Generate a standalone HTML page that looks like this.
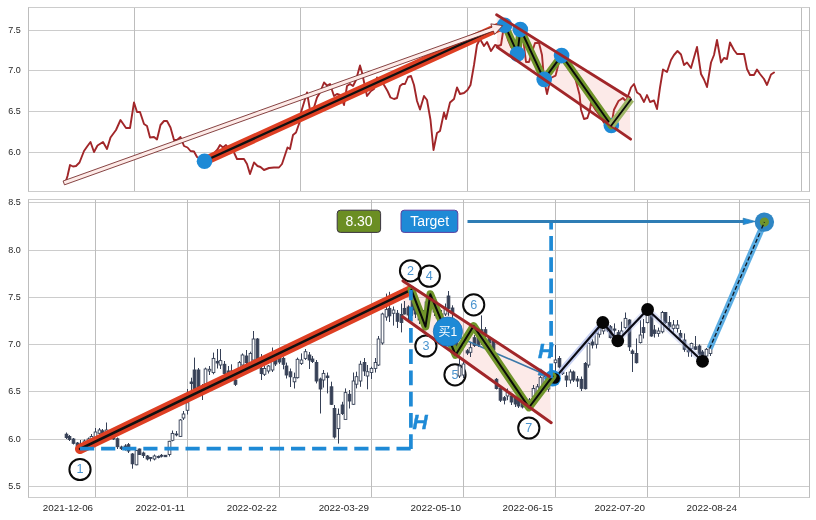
<!DOCTYPE html>
<html lang="zh">
<head>
<meta charset="utf-8">
<title>Chart</title>
<style>
html,body{margin:0;padding:0;background:#ffffff;}
body{width:816px;height:520px;overflow:hidden;font-family:"Liberation Sans","Noto Sans CJK SC",sans-serif;}
svg{display:block;}
</style>
</head>
<body>
<svg width="816" height="520" viewBox="0 0 816 520" font-family="'Liberation Sans', 'Noto Sans CJK SC', sans-serif">
<rect x="0" y="0" width="816" height="520" fill="#ffffff"/>
<g id="ax1">
<rect x="28.5" y="7.5" width="781" height="184" fill="#ffffff"/>
<g stroke="#cccccc" stroke-width="1" fill="none">
<line x1="28.5" y1="30.5" x2="809.5" y2="30.5"/>
<line x1="28.5" y1="70.5" x2="809.5" y2="70.5"/>
<line x1="28.5" y1="111.5" x2="809.5" y2="111.5"/>
<line x1="28.5" y1="152.5" x2="809.5" y2="152.5"/>
<line x1="134.5" y1="7.5" x2="134.5" y2="191.5" stroke="#bdbdbd"/>
<line x1="300.5" y1="7.5" x2="300.5" y2="191.5" stroke="#bdbdbd"/>
<line x1="467.5" y1="7.5" x2="467.5" y2="191.5" stroke="#bdbdbd"/>
<line x1="634.5" y1="7.5" x2="634.5" y2="191.5" stroke="#bdbdbd"/>
<line x1="801.5" y1="7.5" x2="801.5" y2="191.5" stroke="#bdbdbd"/>
</g>
<polyline points="65.5,182.5 67.5,176 70,165 73,166.5 76,166 79.5,162.5 84,151 87.5,146 90.5,142 94,152 97.5,145.5 103,142 107,149 110.5,137.5 116,130 120.5,120 126,128 130,128 134,102.5 137,112 140,112 144,124 147,126 150,137.5 154,137 157,139.5 160.5,125 164,121 167,121 170.5,127.5 174,140 177,140 180.5,137 184,146 187.5,147.5 190.5,151 194,151.5 197,157 200.5,159 204.5,161 208,159 212.5,155 217.5,149.5 220,145 223,147.5 226,145 230,150.5 234,152.5 237,159 244,159 247,164 250,174 254,162.5 257.5,166 260.5,167 264,170 269,168 274,167.5 279,167.5 282,164 285,155 287.5,147.5 290,149 293,135 296,132.5 299.5,122.5 300.5,114 304,102.5 307,92.5 310,110 314,107.5 317,97.5 320,92.5 324,82.5 327,85.5 330,84 334,96 337,94 340,95 344,105 347,86 350,84 353,86 356,80 360,65.5 362,72.5 367,96 371,91 374,89 377,77.5 380,80 384,85 387.5,91 390.5,97.5 394,99 397,98 400,86 402.5,84 405,84 408,77 411,76 414,85 417,101 420,109.5 424,96 427,100 430.5,120 433.5,150 437,133 440,131 444,112.5 446,119 450,102.5 454,99 457,87.5 460,94 464,93 467.5,90 470.5,85 474,65 477,45 480,39 484,46 487,42 491,51 495,45 498,46 501,45 503,32 504.5,24.5 508,40 511,47 514,50 517.5,53.4 520.4,29 523,37.5 526,62 529,62 532,52 535,43 539,43 542,55 544,79.4 547,94 550.7,78 555.6,75.6 559,62 561.7,55.4 566.6,60.6 571.8,66 576.7,83.7 579.6,95 581,109.7 584,119 587.4,118 589.7,111 591,102.5 595.4,109.7 599.8,115.4 604,122.7 611.3,125.5 614,109.7 618.5,101 622.9,98 625.7,101 627,99 631,87.5 634,84 637,92.5 640,94.5 644,102 647,95 650,102 654,100.5 657,109 660,87.5 663,69.5 667,72 671,60 674,55 677.5,51 681,54.5 684,65 687,62.5 691,68 694,57.5 697,47 701,74 704,79.5 707,87 711,62.5 714,55 717,40 721,62.5 724,58 727,59 730,42.5 734,50 737,54 740,54 744,54 747,69 750,75 754,75 757,69.5 760,74 764,79 767,85 771,74.5 774,72.5" fill="none" stroke="#a12629" stroke-width="1.9" stroke-linejoin="round" stroke-linecap="round"/>
<polygon points="496.6,14.8 629.5,97.7 630.6,139.2 497.2,47.1" fill="#e8604a" fill-opacity="0.13"/>
<line x1="204.5" y1="161" x2="503.5" y2="25" stroke="#de3f23" stroke-width="9.2" stroke-linecap="round"/>
<line x1="204.5" y1="161" x2="503.5" y2="25" stroke="#111" stroke-width="2.4" stroke-linecap="round"/>
<circle cx="611.3" cy="125.5" r="7.8" fill="#1e8ad6"/>
<polyline points="504.5,24.5 517.5,53.4 520.4,29 544,79.4 561.7,55.4 611.3,125.5" fill="none" stroke="#70942a" stroke-width="7.4" stroke-linejoin="round" stroke-linecap="round"/>
<polyline points="504.5,24.5 517.5,53.4 520.4,29 544,79.4 561.7,55.4 611.3,125.5" fill="none" stroke="#0a0a0a" stroke-width="1.9" stroke-linejoin="round" stroke-linecap="round"/>
<circle cx="204.5" cy="161.2" r="7.8" fill="#1e8ad6"/>
<circle cx="504.6" cy="25.2" r="7.8" fill="#1e8ad6"/>
<circle cx="520.3" cy="29.6" r="7.8" fill="#1e8ad6"/>
<circle cx="517.4" cy="54" r="7.8" fill="#1e8ad6"/>
<circle cx="544.2" cy="79.4" r="7.8" fill="#1e8ad6"/>
<circle cx="561.6" cy="55.6" r="7.8" fill="#1e8ad6"/>
<polygon points="64.49,184.83 493.41,31.07 494.61,34.41 502.6,25.6 490.83,23.87 492.02,27.21 63.11,180.97" fill="#fdebe8" stroke="#702424" stroke-width="0.85" stroke-linejoin="miter"/>
<line x1="496.6" y1="14.8" x2="629.5" y2="97.7" stroke="#a12629" stroke-width="2.8" stroke-linecap="round"/>
<line x1="497.2" y1="47.1" x2="630.6" y2="139.2" stroke="#a12629" stroke-width="2.8" stroke-linecap="round"/>
<polyline points="611.3,125.5 631,99.2" fill="none" stroke="#9db565" stroke-width="7.4" stroke-linecap="butt"/>
<polyline points="611.3,125.5 631,99.2" fill="none" stroke="#0a0a0a" stroke-width="1.9" stroke-linecap="round"/>
<rect x="28.5" y="7.5" width="781" height="184" fill="none" stroke="#cccccc" stroke-width="1"/>
<path d="M28.5 7.5V191.5M809.5 7.5V191.5" stroke="#bdbdbd" stroke-width="1" fill="none"/>
</g>
<g id="ax2">
<rect x="28.5" y="199.5" width="781" height="298" fill="#ffffff"/>
<g stroke="#cccccc" stroke-width="1" fill="none">
<line x1="28.5" y1="202.5" x2="809.5" y2="202.5"/>
<line x1="28.5" y1="250.5" x2="809.5" y2="250.5"/>
<line x1="28.5" y1="297.5" x2="809.5" y2="297.5"/>
<line x1="28.5" y1="344.5" x2="809.5" y2="344.5"/>
<line x1="28.5" y1="391.5" x2="809.5" y2="391.5"/>
<line x1="28.5" y1="439.5" x2="809.5" y2="439.5"/>
<line x1="28.5" y1="486.5" x2="809.5" y2="486.5"/>
<line x1="95.5" y1="199.5" x2="95.5" y2="497.5" stroke="#bdbdbd"/>
<line x1="187.5" y1="199.5" x2="187.5" y2="497.5" stroke="#bdbdbd"/>
<line x1="279.5" y1="199.5" x2="279.5" y2="497.5" stroke="#bdbdbd"/>
<line x1="371.5" y1="199.5" x2="371.5" y2="497.5" stroke="#bdbdbd"/>
<line x1="463.5" y1="199.5" x2="463.5" y2="497.5" stroke="#bdbdbd"/>
<line x1="555.5" y1="199.5" x2="555.5" y2="497.5" stroke="#bdbdbd"/>
<line x1="647.5" y1="199.5" x2="647.5" y2="497.5" stroke="#bdbdbd"/>
<line x1="739.5" y1="199.5" x2="739.5" y2="497.5" stroke="#bdbdbd"/>
</g>
<polygon points="403,280.9 549.4,376.5 551.2,422.7 402.6,316.8" fill="#e8604a" fill-opacity="0.13"/>
<circle cx="80" cy="469.5" r="10.6" fill="#ffffff" fill-opacity="0.75"/>
<circle cx="410.5" cy="270.8" r="10.6" fill="#ffffff" fill-opacity="0.75"/>
<circle cx="429.3" cy="276.2" r="10.6" fill="#ffffff" fill-opacity="0.75"/>
<circle cx="425.9" cy="346" r="10.6" fill="#ffffff" fill-opacity="0.75"/>
<circle cx="473.7" cy="304.8" r="10.6" fill="#ffffff" fill-opacity="0.75"/>
<circle cx="455" cy="374.8" r="10.6" fill="#ffffff" fill-opacity="0.75"/>
<circle cx="528.8" cy="428" r="10.6" fill="#ffffff" fill-opacity="0.75"/>
<circle cx="80" cy="469.5" r="10.6" fill="none" stroke="#0a0a0a" stroke-width="2"/>
<text x="80" y="473.3" font-size="12.6" fill="#4a94cf" text-anchor="middle">1</text>
<circle cx="410.5" cy="270.8" r="10.6" fill="none" stroke="#0a0a0a" stroke-width="2"/>
<text x="410.5" y="274.6" font-size="12.6" fill="#4a94cf" text-anchor="middle">2</text>
<circle cx="429.3" cy="276.2" r="10.6" fill="none" stroke="#0a0a0a" stroke-width="2"/>
<text x="429.3" y="280" font-size="12.6" fill="#4a94cf" text-anchor="middle">4</text>
<circle cx="425.9" cy="346" r="10.6" fill="none" stroke="#0a0a0a" stroke-width="2"/>
<text x="425.9" y="349.8" font-size="12.6" fill="#4a94cf" text-anchor="middle">3</text>
<circle cx="473.7" cy="304.8" r="10.6" fill="none" stroke="#0a0a0a" stroke-width="2"/>
<text x="473.7" y="308.6" font-size="12.6" fill="#4a94cf" text-anchor="middle">6</text>
<circle cx="455" cy="374.8" r="10.6" fill="none" stroke="#0a0a0a" stroke-width="2"/>
<text x="455" y="378.6" font-size="12.6" fill="#4a94cf" text-anchor="middle">5</text>
<circle cx="528.8" cy="428" r="10.6" fill="none" stroke="#0a0a0a" stroke-width="2"/>
<text x="528.8" y="431.8" font-size="12.6" fill="#4a94cf" text-anchor="middle">7</text>
<g stroke="#364056" stroke-width="0.9">
<line x1="66.5" y1="432.5" x2="66.5" y2="439" stroke-width="1"/>
<rect x="65.15" y="434.2" width="2.7" height="3.3" fill="#364056"/>
<line x1="69.5" y1="435" x2="69.5" y2="441" stroke-width="1"/>
<rect x="68.15" y="436.5" width="2.7" height="3" fill="#364056"/>
<line x1="73.5" y1="438" x2="73.5" y2="444.5" stroke-width="1"/>
<rect x="72.15" y="439" width="2.7" height="4.3" fill="#364056"/>
<line x1="77.5" y1="442" x2="77.5" y2="448.5" stroke-width="1"/>
<rect x="76.15" y="443" width="2.7" height="4" fill="#364056"/>
<line x1="80.5" y1="440" x2="80.5" y2="449" stroke-width="1"/>
<rect x="79.15" y="444" width="2.7" height="4" fill="#364056"/>
<line x1="84.5" y1="439.5" x2="84.5" y2="447" stroke-width="1"/>
<rect x="83.15" y="441" width="2.7" height="4" fill="#ffffff"/>
<line x1="88.5" y1="437.5" x2="88.5" y2="444" stroke-width="1"/>
<rect x="87.15" y="439" width="2.7" height="4" fill="#ffffff"/>
<line x1="91.5" y1="434" x2="91.5" y2="442" stroke-width="1"/>
<rect x="90.15" y="436.5" width="2.7" height="4.5" fill="#ffffff"/>
<line x1="95.5" y1="428" x2="95.5" y2="439" stroke-width="1"/>
<rect x="94.15" y="432" width="2.7" height="6" fill="#ffffff"/>
<line x1="99.5" y1="428" x2="99.5" y2="436" stroke-width="1"/>
<rect x="98.15" y="430" width="2.7" height="3.3" fill="#ffffff"/>
<line x1="102.5" y1="429" x2="102.5" y2="435" stroke-width="1"/>
<rect x="101.15" y="430.8" width="2.7" height="2.5" fill="#364056"/>
<line x1="106.5" y1="422.5" x2="106.5" y2="434" stroke-width="1"/>
<rect x="105.15" y="430" width="2.7" height="3" fill="#ffffff"/>
<line x1="110.5" y1="429" x2="110.5" y2="437" stroke-width="1"/>
<rect x="109.15" y="431" width="2.7" height="4" fill="#364056"/>
<line x1="113.5" y1="432" x2="113.5" y2="440" stroke-width="1"/>
<rect x="112.15" y="434" width="2.7" height="5" fill="#364056"/>
<line x1="117.5" y1="437.5" x2="117.5" y2="449" stroke-width="1"/>
<rect x="116.15" y="438.8" width="2.7" height="7.9" fill="#364056"/>
<line x1="121.5" y1="445.7" x2="121.5" y2="450" stroke-width="1"/>
<rect x="120.15" y="447" width="2.7" height="1.6" fill="#364056"/>
<line x1="125.5" y1="444.2" x2="125.5" y2="450.6" stroke-width="1"/>
<rect x="124.15" y="446" width="2.7" height="2.5" fill="#364056"/>
<line x1="128.5" y1="443" x2="128.5" y2="453" stroke-width="1"/>
<rect x="127.15" y="444.7" width="2.7" height="6.3" fill="#364056"/>
<line x1="132.5" y1="453" x2="132.5" y2="468.7" stroke-width="1"/>
<rect x="131.15" y="454" width="2.7" height="9.8" fill="#364056"/>
<line x1="136.5" y1="450" x2="136.5" y2="465.3" stroke-width="1"/>
<rect x="135.15" y="450.6" width="2.7" height="14.2" fill="#ffffff"/>
<line x1="139.5" y1="448.5" x2="139.5" y2="455" stroke-width="1"/>
<rect x="138.15" y="449" width="2.7" height="5.5" fill="#364056"/>
<line x1="143.5" y1="451.6" x2="143.5" y2="458" stroke-width="1"/>
<rect x="142.15" y="453" width="2.7" height="2.5" fill="#364056"/>
<line x1="147.5" y1="455" x2="147.5" y2="460.4" stroke-width="1"/>
<rect x="146.15" y="456" width="2.7" height="3" fill="#364056"/>
<line x1="150.5" y1="457" x2="150.5" y2="461.4" stroke-width="1"/>
<rect x="149.15" y="457.5" width="2.7" height="0.9" fill="#364056"/>
<line x1="154.5" y1="454.5" x2="154.5" y2="460.4" stroke-width="1"/>
<rect x="153.15" y="456" width="2.7" height="3" fill="#ffffff"/>
<line x1="158.5" y1="455.5" x2="158.5" y2="458.4" stroke-width="1"/>
<rect x="157.15" y="456.5" width="2.7" height="0.9" fill="#364056"/>
<line x1="161.5" y1="454" x2="161.5" y2="457.5" stroke-width="1"/>
<rect x="160.15" y="455.3" width="2.7" height="0.9" fill="#364056"/>
<line x1="165.5" y1="455" x2="165.5" y2="457" stroke-width="1"/>
<rect x="164.15" y="455.3" width="2.7" height="1.4" fill="#364056"/>
<line x1="169.5" y1="440.8" x2="169.5" y2="456.5" stroke-width="1"/>
<rect x="168.15" y="441.3" width="2.7" height="13.2" fill="#ffffff"/>
<line x1="172.5" y1="430.5" x2="172.5" y2="441.3" stroke-width="1"/>
<rect x="171.15" y="433.4" width="2.7" height="6.9" fill="#ffffff"/>
<line x1="176.5" y1="431" x2="176.5" y2="436.4" stroke-width="1"/>
<rect x="175.15" y="434" width="2.7" height="0.9" fill="#364056"/>
<line x1="180.5" y1="419" x2="180.5" y2="437" stroke-width="1"/>
<rect x="179.15" y="420" width="2.7" height="16.4" fill="#ffffff"/>
<line x1="183.5" y1="411" x2="183.5" y2="420" stroke-width="1"/>
<rect x="182.15" y="414" width="2.7" height="4" fill="#ffffff"/>
<line x1="187.5" y1="389" x2="187.5" y2="414.5" stroke-width="1"/>
<rect x="186.15" y="402.7" width="2.7" height="7.6" fill="#ffffff"/>
<line x1="191.5" y1="377.7" x2="191.5" y2="391" stroke-width="1"/>
<rect x="190.15" y="382" width="2.7" height="1.5" fill="#364056"/>
<line x1="194.5" y1="357.6" x2="194.5" y2="388.5" stroke-width="1"/>
<rect x="193.15" y="370" width="2.7" height="18.5" fill="#364056"/>
<line x1="198.5" y1="368" x2="198.5" y2="389.5" stroke-width="1"/>
<rect x="197.15" y="370" width="2.7" height="18.5" fill="#364056"/>
<line x1="202.5" y1="384" x2="202.5" y2="400" stroke-width="1"/>
<rect x="201.15" y="386" width="2.7" height="6" fill="#ffffff"/>
<line x1="205.5" y1="367.6" x2="205.5" y2="385" stroke-width="1"/>
<rect x="204.15" y="369" width="2.7" height="15" fill="#ffffff"/>
<line x1="209.5" y1="366" x2="209.5" y2="375" stroke-width="1"/>
<rect x="208.15" y="369.3" width="2.7" height="1.7" fill="#ffffff"/>
<line x1="213.5" y1="352.6" x2="213.5" y2="374.3" stroke-width="1"/>
<rect x="212.15" y="358.4" width="2.7" height="14.2" fill="#ffffff"/>
<line x1="217.5" y1="349" x2="217.5" y2="368.5" stroke-width="1"/>
<rect x="216.15" y="361.5" width="2.7" height="1.5" fill="#364056"/>
<line x1="220.5" y1="349" x2="220.5" y2="369" stroke-width="1"/>
<rect x="219.15" y="360.6" width="2.7" height="4.4" fill="#ffffff"/>
<line x1="224.5" y1="361" x2="224.5" y2="376" stroke-width="1"/>
<rect x="223.15" y="364.3" width="2.7" height="9.2" fill="#364056"/>
<line x1="228.5" y1="366" x2="228.5" y2="374.3" stroke-width="1"/>
<rect x="227.15" y="371" width="2.7" height="1.6" fill="#364056"/>
<line x1="231.5" y1="364.3" x2="231.5" y2="375" stroke-width="1"/>
<rect x="230.15" y="371" width="2.7" height="1.5" fill="#364056"/>
<line x1="235.5" y1="369.3" x2="235.5" y2="386" stroke-width="1"/>
<rect x="234.15" y="380" width="2.7" height="4.3" fill="#364056"/>
<line x1="239.5" y1="361" x2="239.5" y2="371" stroke-width="1"/>
<rect x="238.15" y="362.6" width="2.7" height="7.4" fill="#ffffff"/>
<line x1="242.5" y1="353.4" x2="242.5" y2="366.8" stroke-width="1"/>
<rect x="241.15" y="355" width="2.7" height="10" fill="#ffffff"/>
<line x1="246.5" y1="350" x2="246.5" y2="365" stroke-width="1"/>
<rect x="245.15" y="356" width="2.7" height="6.6" fill="#364056"/>
<line x1="250.5" y1="351.7" x2="250.5" y2="363" stroke-width="1"/>
<rect x="249.15" y="353.4" width="2.7" height="9.2" fill="#ffffff"/>
<line x1="253.5" y1="331" x2="253.5" y2="361" stroke-width="1"/>
<rect x="252.15" y="339" width="2.7" height="21" fill="#ffffff"/>
<line x1="257.5" y1="338" x2="257.5" y2="362" stroke-width="1"/>
<rect x="256.15" y="339" width="2.7" height="22" fill="#364056"/>
<line x1="261.5" y1="354" x2="261.5" y2="380" stroke-width="1"/>
<rect x="260.15" y="368.5" width="2.7" height="5" fill="#364056"/>
<line x1="264.5" y1="366" x2="264.5" y2="376" stroke-width="1"/>
<rect x="263.15" y="368.5" width="2.7" height="5.8" fill="#ffffff"/>
<line x1="268.5" y1="365" x2="268.5" y2="373.5" stroke-width="1"/>
<rect x="267.15" y="366" width="2.7" height="5" fill="#ffffff"/>
<line x1="272.5" y1="347.5" x2="272.5" y2="372" stroke-width="1"/>
<rect x="271.15" y="361" width="2.7" height="9" fill="#ffffff"/>
<line x1="275.5" y1="358" x2="275.5" y2="366" stroke-width="1"/>
<rect x="274.15" y="360" width="2.7" height="4" fill="#364056"/>
<line x1="279.5" y1="356" x2="279.5" y2="364" stroke-width="1"/>
<rect x="278.15" y="358" width="2.7" height="4" fill="#364056"/>
<line x1="283.5" y1="356.7" x2="283.5" y2="369.3" stroke-width="1"/>
<rect x="282.15" y="358.4" width="2.7" height="5.9" fill="#364056"/>
<line x1="286.5" y1="362.6" x2="286.5" y2="378.5" stroke-width="1"/>
<rect x="285.15" y="366" width="2.7" height="9" fill="#364056"/>
<line x1="290.5" y1="368.5" x2="290.5" y2="387" stroke-width="1"/>
<rect x="289.15" y="371.8" width="2.7" height="5" fill="#364056"/>
<line x1="294.5" y1="372.6" x2="294.5" y2="388.5" stroke-width="1"/>
<rect x="293.15" y="377.7" width="2.7" height="4.1" fill="#ffffff"/>
<line x1="297.5" y1="357.6" x2="297.5" y2="378.5" stroke-width="1"/>
<rect x="296.15" y="359.3" width="2.7" height="18.4" fill="#ffffff"/>
<line x1="301.5" y1="353.4" x2="301.5" y2="365" stroke-width="1"/>
<rect x="300.15" y="360" width="2.7" height="3.4" fill="#ffffff"/>
<line x1="305.5" y1="349" x2="305.5" y2="360" stroke-width="1"/>
<rect x="304.15" y="351.7" width="2.7" height="6.7" fill="#ffffff"/>
<line x1="309.5" y1="352" x2="309.5" y2="369" stroke-width="1"/>
<rect x="308.15" y="355" width="2.7" height="5" fill="#364056"/>
<line x1="312.5" y1="356" x2="312.5" y2="363" stroke-width="1"/>
<rect x="311.15" y="359" width="2.7" height="2.5" fill="#364056"/>
<line x1="316.5" y1="360" x2="316.5" y2="383.4" stroke-width="1"/>
<rect x="315.15" y="362.5" width="2.7" height="18.5" fill="#364056"/>
<line x1="320.5" y1="377.6" x2="320.5" y2="413.5" stroke-width="1"/>
<rect x="319.15" y="379" width="2.7" height="10" fill="#364056"/>
<line x1="323.5" y1="370" x2="323.5" y2="387.6" stroke-width="1"/>
<rect x="322.15" y="373.4" width="2.7" height="6.6" fill="#ffffff"/>
<line x1="327.5" y1="372.5" x2="327.5" y2="393.4" stroke-width="1"/>
<rect x="326.15" y="376" width="2.7" height="1.6" fill="#364056"/>
<line x1="331.5" y1="381.7" x2="331.5" y2="405" stroke-width="1"/>
<rect x="330.15" y="386.8" width="2.7" height="17.5" fill="#364056"/>
<line x1="334.5" y1="405" x2="334.5" y2="438.6" stroke-width="1"/>
<rect x="333.15" y="408.5" width="2.7" height="28.5" fill="#364056"/>
<line x1="338.5" y1="408.5" x2="338.5" y2="443.6" stroke-width="1"/>
<rect x="337.15" y="414.3" width="2.7" height="14.3" fill="#ffffff"/>
<line x1="342.5" y1="401.8" x2="342.5" y2="415" stroke-width="1"/>
<rect x="341.15" y="405" width="2.7" height="8.5" fill="#364056"/>
<line x1="345.5" y1="388.4" x2="345.5" y2="419.4" stroke-width="1"/>
<rect x="344.15" y="392.6" width="2.7" height="26.8" fill="#ffffff"/>
<line x1="349.5" y1="390" x2="349.5" y2="408.5" stroke-width="1"/>
<rect x="348.15" y="394.3" width="2.7" height="6.7" fill="#364056"/>
<line x1="353.5" y1="372.5" x2="353.5" y2="405" stroke-width="1"/>
<rect x="352.15" y="381" width="2.7" height="23.3" fill="#ffffff"/>
<line x1="356.5" y1="371.7" x2="356.5" y2="388.4" stroke-width="1"/>
<rect x="355.15" y="376.7" width="2.7" height="7.5" fill="#ffffff"/>
<line x1="360.5" y1="360.8" x2="360.5" y2="386.8" stroke-width="1"/>
<rect x="359.15" y="364.2" width="2.7" height="16.8" fill="#ffffff"/>
<line x1="364.5" y1="358" x2="364.5" y2="376" stroke-width="1"/>
<rect x="363.15" y="362.5" width="2.7" height="8.5" fill="#364056"/>
<line x1="367.5" y1="365" x2="367.5" y2="389.3" stroke-width="1"/>
<rect x="366.15" y="371.7" width="2.7" height="4.3" fill="#ffffff"/>
<line x1="371.5" y1="366.7" x2="371.5" y2="379" stroke-width="1"/>
<rect x="370.15" y="368.4" width="2.7" height="4.1" fill="#ffffff"/>
<line x1="375.5" y1="358" x2="375.5" y2="372.5" stroke-width="1"/>
<rect x="374.15" y="362.5" width="2.7" height="5.9" fill="#ffffff"/>
<line x1="378.5" y1="336" x2="378.5" y2="366" stroke-width="1"/>
<rect x="377.15" y="339" width="2.7" height="26" fill="#ffffff"/>
<line x1="382.5" y1="312.7" x2="382.5" y2="344.7" stroke-width="1"/>
<rect x="381.15" y="314" width="2.7" height="29" fill="#ffffff"/>
<line x1="386.5" y1="293.6" x2="386.5" y2="320.7" stroke-width="1"/>
<rect x="385.15" y="309.6" width="2.7" height="7.4" fill="#ffffff"/>
<line x1="389.5" y1="291.8" x2="389.5" y2="322" stroke-width="1"/>
<rect x="388.15" y="308.4" width="2.7" height="7.4" fill="#364056"/>
<line x1="393.5" y1="306.5" x2="393.5" y2="325.6" stroke-width="1"/>
<rect x="392.15" y="310" width="2.7" height="3.3" fill="#ffffff"/>
<line x1="397.5" y1="310" x2="397.5" y2="328" stroke-width="1"/>
<rect x="396.15" y="313.3" width="2.7" height="8" fill="#364056"/>
<line x1="401.5" y1="303.5" x2="401.5" y2="332.4" stroke-width="1"/>
<rect x="400.15" y="314.5" width="2.7" height="8" fill="#364056"/>
<line x1="404.5" y1="301" x2="404.5" y2="314.5" stroke-width="1"/>
<rect x="403.15" y="308.4" width="2.7" height="5.6" fill="#364056"/>
<line x1="408.5" y1="305.3" x2="408.5" y2="320.7" stroke-width="1"/>
<rect x="407.15" y="307" width="2.7" height="8" fill="#364056"/>
<line x1="412.5" y1="290" x2="412.5" y2="316" stroke-width="1"/>
<rect x="411.15" y="295" width="2.7" height="15" fill="#364056"/>
<line x1="415.5" y1="300" x2="415.5" y2="318" stroke-width="1"/>
<rect x="414.15" y="303" width="2.7" height="11" fill="#364056"/>
<line x1="419.5" y1="305" x2="419.5" y2="324" stroke-width="1"/>
<rect x="418.15" y="310" width="2.7" height="10" fill="#364056"/>
<line x1="423.5" y1="310" x2="423.5" y2="327" stroke-width="1"/>
<rect x="422.15" y="314" width="2.7" height="8" fill="#364056"/>
<line x1="426.5" y1="298" x2="426.5" y2="326" stroke-width="1"/>
<rect x="425.15" y="302" width="2.7" height="16" fill="#ffffff"/>
<line x1="430.5" y1="294" x2="430.5" y2="310" stroke-width="1"/>
<rect x="429.15" y="298" width="2.7" height="8" fill="#ffffff"/>
<line x1="434.5" y1="297" x2="434.5" y2="316" stroke-width="1"/>
<rect x="433.15" y="300" width="2.7" height="12" fill="#364056"/>
<line x1="437.5" y1="305" x2="437.5" y2="322" stroke-width="1"/>
<rect x="436.15" y="310" width="2.7" height="8" fill="#364056"/>
<line x1="441.5" y1="310" x2="441.5" y2="328" stroke-width="1"/>
<rect x="440.15" y="314" width="2.7" height="10" fill="#364056"/>
<line x1="445.5" y1="303.5" x2="445.5" y2="316" stroke-width="1"/>
<rect x="444.15" y="308" width="2.7" height="6" fill="#ffffff"/>
<line x1="448.5" y1="291" x2="448.5" y2="315.8" stroke-width="1"/>
<rect x="447.15" y="296" width="2.7" height="12.4" fill="#364056"/>
<line x1="452.5" y1="305.3" x2="452.5" y2="320" stroke-width="1"/>
<rect x="451.15" y="308" width="2.7" height="5" fill="#364056"/>
<line x1="456.5" y1="325" x2="456.5" y2="355" stroke-width="1"/>
<rect x="455.15" y="330" width="2.7" height="20" fill="#364056"/>
<line x1="459.5" y1="358.5" x2="459.5" y2="378" stroke-width="1"/>
<rect x="458.15" y="366" width="2.7" height="10" fill="#ffffff"/>
<line x1="463.5" y1="360" x2="463.5" y2="378" stroke-width="1"/>
<rect x="462.15" y="364" width="2.7" height="11" fill="#ffffff"/>
<line x1="467.5" y1="349" x2="467.5" y2="355" stroke-width="1"/>
<rect x="466.15" y="350.8" width="2.7" height="2.2" fill="#364056"/>
<line x1="470.5" y1="343" x2="470.5" y2="357" stroke-width="1"/>
<rect x="469.15" y="347.7" width="2.7" height="4.6" fill="#ffffff"/>
<line x1="474.5" y1="335" x2="474.5" y2="347" stroke-width="1"/>
<rect x="473.15" y="337.7" width="2.7" height="7.7" fill="#364056"/>
<line x1="478.5" y1="330" x2="478.5" y2="347" stroke-width="1"/>
<rect x="477.15" y="337.7" width="2.7" height="7.7" fill="#364056"/>
<line x1="481.5" y1="315.4" x2="481.5" y2="345" stroke-width="1"/>
<rect x="480.15" y="329.7" width="2.7" height="3.3" fill="#364056"/>
<line x1="485.5" y1="327" x2="485.5" y2="337" stroke-width="1"/>
<rect x="484.15" y="329.7" width="2.7" height="3.7" fill="#364056"/>
<line x1="489.5" y1="336" x2="489.5" y2="345" stroke-width="1"/>
<rect x="488.15" y="338" width="2.7" height="5" fill="#364056"/>
<line x1="493.5" y1="339" x2="493.5" y2="352" stroke-width="1"/>
<rect x="492.15" y="341" width="2.7" height="9" fill="#364056"/>
<line x1="496.5" y1="378" x2="496.5" y2="389.5" stroke-width="1"/>
<rect x="495.15" y="379.3" width="2.7" height="9.2" fill="#364056"/>
<line x1="500.5" y1="387" x2="500.5" y2="402" stroke-width="1"/>
<rect x="499.15" y="388.5" width="2.7" height="11.7" fill="#364056"/>
<line x1="504.5" y1="396" x2="504.5" y2="404.4" stroke-width="1"/>
<rect x="503.15" y="397.7" width="2.7" height="2.5" fill="#364056"/>
<line x1="507.5" y1="388.5" x2="507.5" y2="400.2" stroke-width="1"/>
<rect x="506.15" y="392" width="2.7" height="4" fill="#ffffff"/>
<line x1="511.5" y1="394" x2="511.5" y2="405" stroke-width="1"/>
<rect x="510.15" y="396" width="2.7" height="6" fill="#364056"/>
<line x1="515.5" y1="396" x2="515.5" y2="407" stroke-width="1"/>
<rect x="514.15" y="398" width="2.7" height="6" fill="#364056"/>
<line x1="518.5" y1="398" x2="518.5" y2="408" stroke-width="1"/>
<rect x="517.15" y="400" width="2.7" height="6" fill="#364056"/>
<line x1="522.5" y1="400" x2="522.5" y2="408.5" stroke-width="1"/>
<rect x="521.15" y="402" width="2.7" height="5" fill="#364056"/>
<line x1="526.5" y1="401" x2="526.5" y2="408" stroke-width="1"/>
<rect x="525.15" y="403" width="2.7" height="4" fill="#364056"/>
<line x1="529.5" y1="398" x2="529.5" y2="407.5" stroke-width="1"/>
<rect x="528.15" y="400" width="2.7" height="5" fill="#ffffff"/>
<line x1="533.5" y1="385" x2="533.5" y2="403.5" stroke-width="1"/>
<rect x="532.15" y="388.5" width="2.7" height="8.4" fill="#ffffff"/>
<line x1="537.5" y1="384" x2="537.5" y2="397" stroke-width="1"/>
<rect x="536.15" y="386.8" width="2.7" height="8.4" fill="#ffffff"/>
<line x1="540.5" y1="376" x2="540.5" y2="390" stroke-width="1"/>
<rect x="539.15" y="377.6" width="2.7" height="10.9" fill="#ffffff"/>
<line x1="544.5" y1="375" x2="544.5" y2="386" stroke-width="1"/>
<rect x="543.15" y="376.8" width="2.7" height="6.7" fill="#ffffff"/>
<line x1="548.5" y1="381.8" x2="548.5" y2="391.8" stroke-width="1"/>
<rect x="547.15" y="383" width="2.7" height="6" fill="#ffffff"/>
<line x1="551.5" y1="376" x2="551.5" y2="386" stroke-width="1"/>
<rect x="550.15" y="378" width="2.7" height="6" fill="#ffffff"/>
<line x1="555.5" y1="345" x2="555.5" y2="375" stroke-width="1"/>
<rect x="554.15" y="360" width="2.7" height="2.7" fill="#ffffff"/>
<line x1="559.5" y1="356" x2="559.5" y2="368.5" stroke-width="1"/>
<rect x="558.15" y="358.5" width="2.7" height="8.5" fill="#364056"/>
<line x1="562.5" y1="369.3" x2="562.5" y2="375" stroke-width="1"/>
<rect x="561.15" y="372" width="2.7" height="1.6" fill="#364056"/>
<line x1="566.5" y1="372" x2="566.5" y2="387" stroke-width="1"/>
<rect x="565.15" y="376" width="2.7" height="4" fill="#364056"/>
<line x1="570.5" y1="369.4" x2="570.5" y2="383.6" stroke-width="1"/>
<rect x="569.15" y="372" width="2.7" height="8" fill="#ffffff"/>
<line x1="573.5" y1="370.5" x2="573.5" y2="382" stroke-width="1"/>
<rect x="572.15" y="372" width="2.7" height="8" fill="#364056"/>
<line x1="577.5" y1="376" x2="577.5" y2="387" stroke-width="1"/>
<rect x="576.15" y="379" width="2.7" height="2" fill="#364056"/>
<line x1="581.5" y1="376.5" x2="581.5" y2="391" stroke-width="1"/>
<rect x="580.15" y="379.4" width="2.7" height="8.9" fill="#364056"/>
<line x1="585.5" y1="362" x2="585.5" y2="389.5" stroke-width="1"/>
<rect x="584.15" y="363.5" width="2.7" height="25.2" fill="#364056"/>
<line x1="588.5" y1="342" x2="588.5" y2="367.7" stroke-width="1"/>
<rect x="587.15" y="343.5" width="2.7" height="21.5" fill="#ffffff"/>
<line x1="592.5" y1="339.3" x2="592.5" y2="348.5" stroke-width="1"/>
<rect x="591.15" y="342" width="2.7" height="3" fill="#364056"/>
<line x1="596.5" y1="331" x2="596.5" y2="348.5" stroke-width="1"/>
<rect x="595.15" y="333.4" width="2.7" height="10.9" fill="#ffffff"/>
<line x1="599.5" y1="327.6" x2="599.5" y2="337.6" stroke-width="1"/>
<rect x="598.15" y="329.3" width="2.7" height="5" fill="#ffffff"/>
<line x1="603.5" y1="327.6" x2="603.5" y2="334.3" stroke-width="1"/>
<rect x="602.15" y="328.4" width="2.7" height="2.6" fill="#ffffff"/>
<line x1="607.5" y1="323" x2="607.5" y2="332" stroke-width="1"/>
<rect x="606.15" y="325" width="2.7" height="5" fill="#ffffff"/>
<line x1="610.5" y1="325" x2="610.5" y2="338.5" stroke-width="1"/>
<rect x="609.15" y="326.7" width="2.7" height="10.9" fill="#364056"/>
<line x1="614.5" y1="323.4" x2="614.5" y2="335" stroke-width="1"/>
<rect x="613.15" y="329" width="2.7" height="1.2" fill="#364056"/>
<line x1="618.5" y1="330" x2="618.5" y2="338" stroke-width="1"/>
<rect x="617.15" y="332.6" width="2.7" height="3.4" fill="#364056"/>
<line x1="621.5" y1="321.7" x2="621.5" y2="336.8" stroke-width="1"/>
<rect x="620.15" y="331" width="2.7" height="5" fill="#ffffff"/>
<line x1="625.5" y1="312.5" x2="625.5" y2="329.3" stroke-width="1"/>
<rect x="624.15" y="318.4" width="2.7" height="9.2" fill="#ffffff"/>
<line x1="629.5" y1="319.2" x2="629.5" y2="351" stroke-width="1"/>
<rect x="628.15" y="320" width="2.7" height="26.8" fill="#364056"/>
<line x1="632.5" y1="349.3" x2="632.5" y2="372" stroke-width="1"/>
<rect x="631.15" y="351" width="2.7" height="2.5" fill="#364056"/>
<line x1="636.5" y1="338.5" x2="636.5" y2="363.5" stroke-width="1"/>
<rect x="635.15" y="353.5" width="2.7" height="9.2" fill="#364056"/>
<line x1="640.5" y1="320" x2="640.5" y2="343.5" stroke-width="1"/>
<rect x="639.15" y="335" width="2.7" height="7.6" fill="#ffffff"/>
<line x1="643.5" y1="319" x2="643.5" y2="338.5" stroke-width="1"/>
<rect x="642.15" y="327.6" width="2.7" height="5" fill="#364056"/>
<line x1="647.5" y1="313.4" x2="647.5" y2="323.4" stroke-width="1"/>
<rect x="646.15" y="315" width="2.7" height="7.6" fill="#ffffff"/>
<line x1="651.5" y1="314.2" x2="651.5" y2="336.8" stroke-width="1"/>
<rect x="650.15" y="315" width="2.7" height="21" fill="#364056"/>
<line x1="654.5" y1="325" x2="654.5" y2="337.6" stroke-width="1"/>
<rect x="653.15" y="330" width="2.7" height="3.4" fill="#364056"/>
<line x1="658.5" y1="327.6" x2="658.5" y2="336.8" stroke-width="1"/>
<rect x="657.15" y="331" width="2.7" height="2.4" fill="#ffffff"/>
<line x1="662.5" y1="310.9" x2="662.5" y2="333.4" stroke-width="1"/>
<rect x="661.15" y="312.5" width="2.7" height="19.3" fill="#ffffff"/>
<line x1="665.5" y1="312" x2="665.5" y2="324" stroke-width="1"/>
<rect x="664.15" y="312.5" width="2.7" height="10.1" fill="#364056"/>
<line x1="669.5" y1="316" x2="669.5" y2="329" stroke-width="1"/>
<rect x="668.15" y="322.6" width="2.7" height="4.2" fill="#364056"/>
<line x1="673.5" y1="320" x2="673.5" y2="332.6" stroke-width="1"/>
<rect x="672.15" y="325" width="2.7" height="3.4" fill="#ffffff"/>
<line x1="677.5" y1="320" x2="677.5" y2="332.6" stroke-width="1"/>
<rect x="676.15" y="325" width="2.7" height="3.4" fill="#ffffff"/>
<line x1="680.5" y1="330" x2="680.5" y2="340" stroke-width="1"/>
<rect x="679.15" y="333.4" width="2.7" height="4.2" fill="#364056"/>
<line x1="684.5" y1="333.4" x2="684.5" y2="351.8" stroke-width="1"/>
<rect x="683.15" y="340" width="2.7" height="9.3" fill="#364056"/>
<line x1="688.5" y1="348.5" x2="688.5" y2="356.8" stroke-width="1"/>
<rect x="687.15" y="350" width="2.7" height="1.8" fill="#364056"/>
<line x1="691.5" y1="342.6" x2="691.5" y2="356.8" stroke-width="1"/>
<rect x="690.15" y="343.5" width="2.7" height="5" fill="#ffffff"/>
<line x1="695.5" y1="336" x2="695.5" y2="350" stroke-width="1"/>
<rect x="694.15" y="346.8" width="2.7" height="2.5" fill="#364056"/>
<line x1="699.5" y1="344.3" x2="699.5" y2="356" stroke-width="1"/>
<rect x="698.15" y="346" width="2.7" height="8.3" fill="#364056"/>
<line x1="702.5" y1="350" x2="702.5" y2="361.4" stroke-width="1"/>
<rect x="701.15" y="352" width="2.7" height="6" fill="#364056"/>
<line x1="706.5" y1="348" x2="706.5" y2="358" stroke-width="1"/>
<rect x="705.15" y="349.3" width="2.7" height="6.7" fill="#ffffff"/>
<line x1="710.5" y1="346" x2="710.5" y2="356" stroke-width="1"/>
<rect x="709.15" y="347.7" width="2.7" height="5.8" fill="#ffffff"/>
</g>
<line x1="80" y1="449" x2="410" y2="290.4" stroke="#de3f23" stroke-width="10" stroke-linecap="round"/>
<line x1="80" y1="449" x2="410" y2="290.4" stroke="#111" stroke-width="2.5" stroke-linecap="round"/>
<line x1="447.9" y1="332.6" x2="541" y2="372.7" stroke="#3b78a8" stroke-width="1.6"/>
<polygon points="549,376.1 538.05,375 540.75,368.8" fill="#1e8ad6" stroke="#3b78a8" stroke-width="0.8"/>
<polyline points="554.6,378.4 602.8,322.5 617.8,340.8 647.6,309.5 702.5,361.3" fill="none" stroke="#b9c4ee" stroke-opacity="0.45" stroke-width="6" stroke-linejoin="round" stroke-linecap="round"/>
<polyline points="554.6,378.4 602.8,322.5" fill="none" stroke="#b9c4ee" stroke-opacity="0.6" stroke-width="6" stroke-linecap="round"/>
<polyline points="554.6,378.4 602.8,322.5 617.8,340.8 647.6,309.5 702.5,361.3" fill="none" stroke="#0a0a14" stroke-width="2.2" stroke-linejoin="round" stroke-linecap="round"/>
<circle cx="552.6" cy="378.3" r="8.3" fill="#1e8ad6"/>
<circle cx="554.6" cy="378.4" r="5.4" fill="#050505"/>
<circle cx="602.8" cy="322.5" r="6.4" fill="#050505"/>
<circle cx="617.8" cy="340.8" r="6.4" fill="#050505"/>
<circle cx="647.6" cy="309.5" r="6.4" fill="#050505"/>
<circle cx="702.5" cy="361.3" r="6.4" fill="#050505"/>
<polyline points="411.4,289.8 425.5,326.6 430.3,294.2 455.6,355 473.6,326 529,407.5 552.5,376.3" fill="none" stroke="#70942a" stroke-width="7.8" stroke-linejoin="round" stroke-linecap="round"/>
<polyline points="411.4,289.8 425.5,326.6 430.3,294.2 455.6,355 473.6,326 529,407.5 552.5,376.3" fill="none" stroke="#0a0a0a" stroke-width="2" stroke-linejoin="round" stroke-linecap="round"/>
<line x1="80" y1="448.7" x2="412.7" y2="448.7" stroke="#1e8ad6" stroke-width="3.8" stroke-dasharray="14.2 6.9"/>
<line x1="410.9" y1="449" x2="410.9" y2="290" stroke="#1e8ad6" stroke-width="3.7" stroke-dasharray="14.8 6.45"/>
<line x1="551.1" y1="378.2" x2="551.1" y2="221.4" stroke="#1e8ad6" stroke-width="3.7" stroke-dasharray="14.8 6.45"/>
<text x="412.6" y="428.8" font-size="21" font-weight="bold" font-style="italic" fill="#1e8ad6" stroke="#1e8ad6" stroke-width="0.45">H</text>
<text x="538" y="357.7" font-size="21" font-weight="bold" font-style="italic" fill="#1e8ad6" stroke="#1e8ad6" stroke-width="0.45">H</text>
<line x1="403" y1="280.9" x2="549.4" y2="376.5" stroke="#a12629" stroke-width="3" stroke-linecap="round"/>
<line x1="402.6" y1="316.8" x2="551.2" y2="422.7" stroke="#a12629" stroke-width="3" stroke-linecap="round"/>
<line x1="709.6" y1="348.5" x2="764.4" y2="222.5" stroke="#5badE3" stroke-width="6.4"/>
<line x1="709.6" y1="348.5" x2="764.4" y2="222.5" stroke="#10151c" stroke-width="1.3" stroke-dasharray="4.2 2.2"/>
<line x1="467.5" y1="221.4" x2="745" y2="221.4" stroke="#2f7db5" stroke-width="3"/>
<polygon points="755.2,221.4 743.2,218.2 743.2,224.6" fill="#1e8ad6" stroke="#2f7db5" stroke-width="0.8"/>
<circle cx="764.4" cy="222.1" r="9.7" fill="#2f86c4"/>
<circle cx="764.4" cy="222.1" r="4.6" fill="#70942a"/>
<line x1="761.6" y1="228.5" x2="764.4" y2="222.1" stroke="#10151c" stroke-width="1.3" stroke-dasharray="4.2 2.2"/>
<circle cx="447.9" cy="331.6" r="14.6" fill="#1e8ad6" stroke="#1f6fb5" stroke-width="0.8"/>
<text x="447.9" y="336.3" font-size="12" fill="#ffffff" text-anchor="middle">买1</text>
<rect x="337.2" y="210.2" width="43.4" height="22.2" rx="3.2" ry="3.2" fill="#6b8e23" stroke="#3a3340" stroke-width="1"/>
<text x="359" y="226.4" font-size="14" fill="#ffffff" text-anchor="middle">8.30</text>
<rect x="401" y="210.2" width="56.8" height="22.2" rx="3.2" ry="3.2" fill="#1e8ad6" stroke="#5a3fa0" stroke-width="1"/>
<text x="429.6" y="226.4" font-size="14" fill="#ffffff" text-anchor="middle">Target</text>
<rect x="28.5" y="199.5" width="781" height="298" fill="none" stroke="#cccccc" stroke-width="1"/>
<path d="M28.5 199.5V497.5M809.5 199.5V497.5" stroke="#bdbdbd" stroke-width="1" fill="none"/>
</g>
<g fill="#262626" font-size="9.9" text-anchor="end">
<text x="20.7" y="33.1" textLength="12.5" lengthAdjust="spacingAndGlyphs">7.5</text>
<text x="20.7" y="73.1" textLength="12.5" lengthAdjust="spacingAndGlyphs">7.0</text>
<text x="20.7" y="114.1" textLength="12.5" lengthAdjust="spacingAndGlyphs">6.5</text>
<text x="20.7" y="155.1" textLength="12.5" lengthAdjust="spacingAndGlyphs">6.0</text>
<text x="20.7" y="205.1" textLength="12.5" lengthAdjust="spacingAndGlyphs">8.5</text>
<text x="20.7" y="253.1" textLength="12.5" lengthAdjust="spacingAndGlyphs">8.0</text>
<text x="20.7" y="300.1" textLength="12.5" lengthAdjust="spacingAndGlyphs">7.5</text>
<text x="20.7" y="347.1" textLength="12.5" lengthAdjust="spacingAndGlyphs">7.0</text>
<text x="20.7" y="394.1" textLength="12.5" lengthAdjust="spacingAndGlyphs">6.5</text>
<text x="20.7" y="442.1" textLength="12.5" lengthAdjust="spacingAndGlyphs">6.0</text>
<text x="20.7" y="489.1" textLength="12.5" lengthAdjust="spacingAndGlyphs">5.5</text>
</g>
<g fill="#262626" font-size="9.85" text-anchor="end">
<text x="93.1" y="510.7">2021-12-06</text>
<text x="185.07" y="510.7">2022-01-11</text>
<text x="277.04" y="510.7">2022-02-22</text>
<text x="369.01" y="510.7">2022-03-29</text>
<text x="460.98" y="510.7">2022-05-10</text>
<text x="552.95" y="510.7">2022-06-15</text>
<text x="644.92" y="510.7">2022-07-20</text>
<text x="736.89" y="510.7">2022-08-24</text>
</g>
</svg>
</body>
</html>
